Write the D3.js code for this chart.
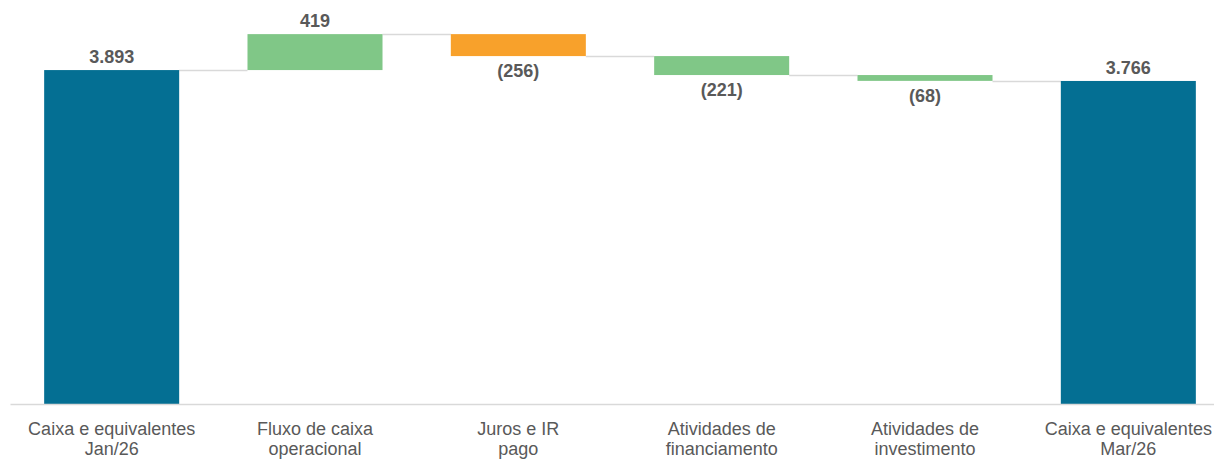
<!DOCTYPE html>
<html>
<head>
<meta charset="utf-8">
<script src="https://cdn.jsdelivr.net/npm/d3@7"></script>
<style>
  body{margin:0;background:#fff;}
  svg{display:block;}
</style>
</head>
<body>
<svg id="chart" width="1214" height="459"></svg>
<script>
// waterfall data (R$ mm)
const categories=[
    ["Caixa e equivalentes","Jan/26"],
    ["Fluxo de caixa","operacional"],
    ["Juros e IR","pago"],
    ["Atividades de","financiamento"],
    ["Atividades de","investimento"],
    ["Caixa e equivalentes","Mar/26"]
];
const values=[3893,419,-256,-221,-68,3766];
const kinds=["total","delta","delta","delta","delta","total"];

const barColors=["#046f93","#80c787","#f8a12b","#80c787","#80c787","#046f93"];

const ptBR=d3.formatLocale({decimal:",",thousands:".",grouping:[3],currency:["R$",""]});
const fmt=v=>v<0?`(${ptBR.format(",")(-v)})`:ptBR.format(",")(v);

// running totals
let run=0;
const bars=values.map((v,i)=>{
    let start,end;
    if(kinds[i]==="total"){start=0;end=v;run=v;}
    else{start=run;end=run+v;run=end;}
    return {i,key:categories[i].join(" "),v,start,end,color:barColors[i]};
});

const svg=d3.select("#chart");
const baseY=404;

const x=d3.scaleBand()
    .domain(bars.map(d=>d.key))
    .range([10,1230])
    .paddingInner(0.336)
    .paddingOuter(0.168);
const y=d3.scaleLinear()
    .domain([0,4500])
    .range([baseY,18]);

// connectors
svg.append("g").selectAll("line")
    .data(bars.slice(0,-1))
    .enter()
    .append("line")
    .attr("x1",d=>x(d.key)+x.bandwidth())
    .attr("x2",d=>x(bars[d.i+1].key))
    .attr("y1",d=>Math.round(y(d.end))+0.5)
    .attr("y2",d=>Math.round(y(d.end))+0.5)
    .attr("stroke","#d9d9d9")
    .attr("stroke-width",1.5);

// bars
svg.append("g").selectAll("rect")
    .data(bars)
    .enter()
    .append("rect")
    .attr("x",d=>x(d.key))
    .attr("y",d=>y(Math.max(d.start,d.end)))
    .attr("width",x.bandwidth())
    .attr("height",d=>Math.abs(y(d.start)-y(d.end)))
    .attr("fill",d=>d.color);

// axis
const axis=svg.append("g")
    .attr("transform",`translate(0,${baseY})`)
    .call(d3.axisBottom(x).tickSize(0).tickFormat(""));
axis.select(".domain").attr("stroke","#d9d9d9").attr("stroke-width",1.5);
axis.selectAll(".tick text").remove();
axis.selectAll(".tick").each(function(d,i){
    const t=d3.select(this).append("text")
        .attr("text-anchor","middle")
        .attr("fill","#595959")
        .style("font-family","'Liberation Sans', Arial, sans-serif")
        .style("font-size","18px");
    categories[i].forEach((s,j)=>{
        t.append("tspan").attr("x",0).attr("y",31+j*20).text(s);
    });
});

// value labels
svg.append("g").selectAll("text")
    .data(bars)
    .enter()
    .append("text")
    .attr("x",d=>x(d.key)+x.bandwidth()/2)
    .attr("y",d=>d.v>=0?y(Math.max(d.start,d.end))-7:y(Math.min(d.start,d.end))+21)
    .attr("text-anchor","middle")
    .attr("fill","#595959")
    .style("font-family","'Liberation Sans', Arial, sans-serif")
    .style("font-weight","bold")
    .style("font-size","18px")
    .text(d=>fmt(d.v));
</script>
</body>
</html>
